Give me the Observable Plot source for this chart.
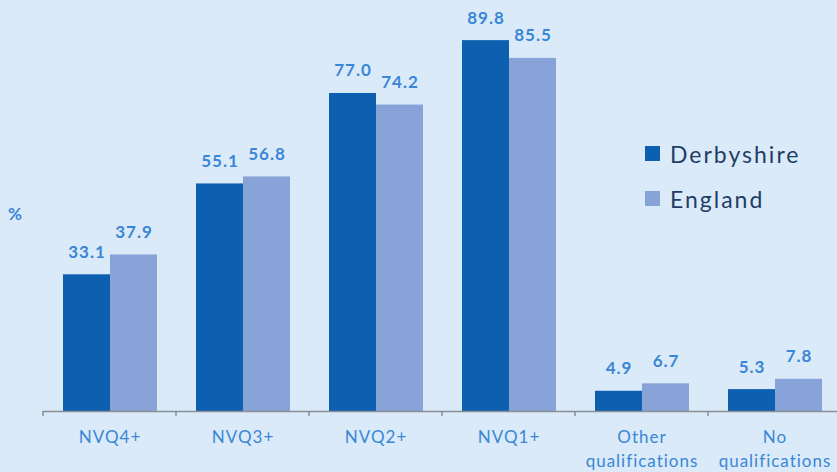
<!DOCTYPE html>
<html>
<head>
<meta charset="utf-8">
<script src="https://cdn.jsdelivr.net/npm/d3@7"></script>
<script src="https://cdn.jsdelivr.net/npm/@observablehq/plot@0.6"></script>
<style>
  html, body { margin: 0; padding: 0; background: #daeaf9; }
  #wrap { position: relative; width: 837px; height: 472px; overflow: hidden; background: #daeaf9; font-family: Lato, "Open Sans", sans-serif; }
  #chart svg text { letter-spacing: 1px; }
  #pct { position: absolute; left: 8px; top: 203px; font-size: 17px; font-weight: bold; color: #3a86d6; }
  #legend { position: absolute; left: 645px; top: 142px; font-size: 23px; color: #1f3d66; letter-spacing: 2px; }
  .item { display: flex; align-items: center; height: 23px; margin-bottom: 22px; }
  .sw { width: 15px; height: 15px; margin-right: 10px; }
</style>
</head>
<body>
<div id="wrap">
  <div id="chart"></div>
  <div id="pct">%</div>
  <div id="legend"></div>
</div>
<script>
const categories = ["NVQ4+", "NVQ3+", "NVQ2+", "NVQ1+", "Other\nqualifications", "No\nqualifications"];
const series = ["Derbyshire", "England"];
const derbyshire = [33.1, 55.1, 77.0, 89.8, 4.9, 5.3];
const england = [37.9, 56.8, 74.2, 85.5, 6.7, 7.8];
const colors = ["#0d5faf", "#88a3d7"];

const data = [];
categories.forEach((c, i) => {
  data.push({category: c, series: series[0], value: derbyshire[i]});
  data.push({category: c, series: series[1], value: england[i]});
});

const chart = Plot.plot({
  width: 837,
  height: 472,
  marginLeft: 42,
  marginRight: -5,
  marginTop: 0,
  marginBottom: 61,
  style: {background: "transparent", fontFamily: "Lato, 'Open Sans', sans-serif", overflow: "visible"},
  fx: {domain: categories, paddingInner: 0, paddingOuter: 0, label: null, axis: null},
  x: {domain: series, paddingInner: 0, paddingOuter: 0.41, axis: null},
  y: {domain: [0, 100], range: [411, -2], axis: null},
  color: {domain: series, range: colors},
  marks: [
    Plot.barY(data, {fx: "category", x: "series", y: "value", fill: "series"}),
    Plot.text(data, {fx: "category", x: "series", y: "value", text: d => d.value.toFixed(1),
      lineAnchor: "bottom", dy: -17, fill: "#3a86d6", fontSize: 17, fontWeight: "bold"}),
    Plot.text(categories, {fx: d => d, text: d => d, frameAnchor: "bottom", lineAnchor: "top",
      dy: 14, lineHeight: 1.42, fill: "#3b87d5", fontSize: 17}),
    Plot.ruleY([0], {stroke: "#8a8f96", strokeWidth: 1.5})
  ]
});
document.getElementById("chart").appendChild(chart);

// group boundary ticks drawn with the fx scale
const fx = chart.scale("fx");
const svg = d3.select(chart);
const ticks = categories.map(c => fx.apply(c)).concat([fx.apply(categories[categories.length - 1]) + fx.bandwidth]);
svg.append("g").selectAll("line").data(ticks).join("line")
  .attr("x1", d => d).attr("x2", d => d)
  .attr("y1", 411).attr("y2", 416)
  .attr("stroke", "#8a8f96").attr("stroke-width", 1.5);

const legend = d3.select("#legend");
series.forEach((s, i) => {
  const it = legend.append("div").attr("class", "item");
  it.append("div").attr("class", "sw").style("background", colors[i]);
  it.append("span").text(s);
});
</script>
</body>
</html>
